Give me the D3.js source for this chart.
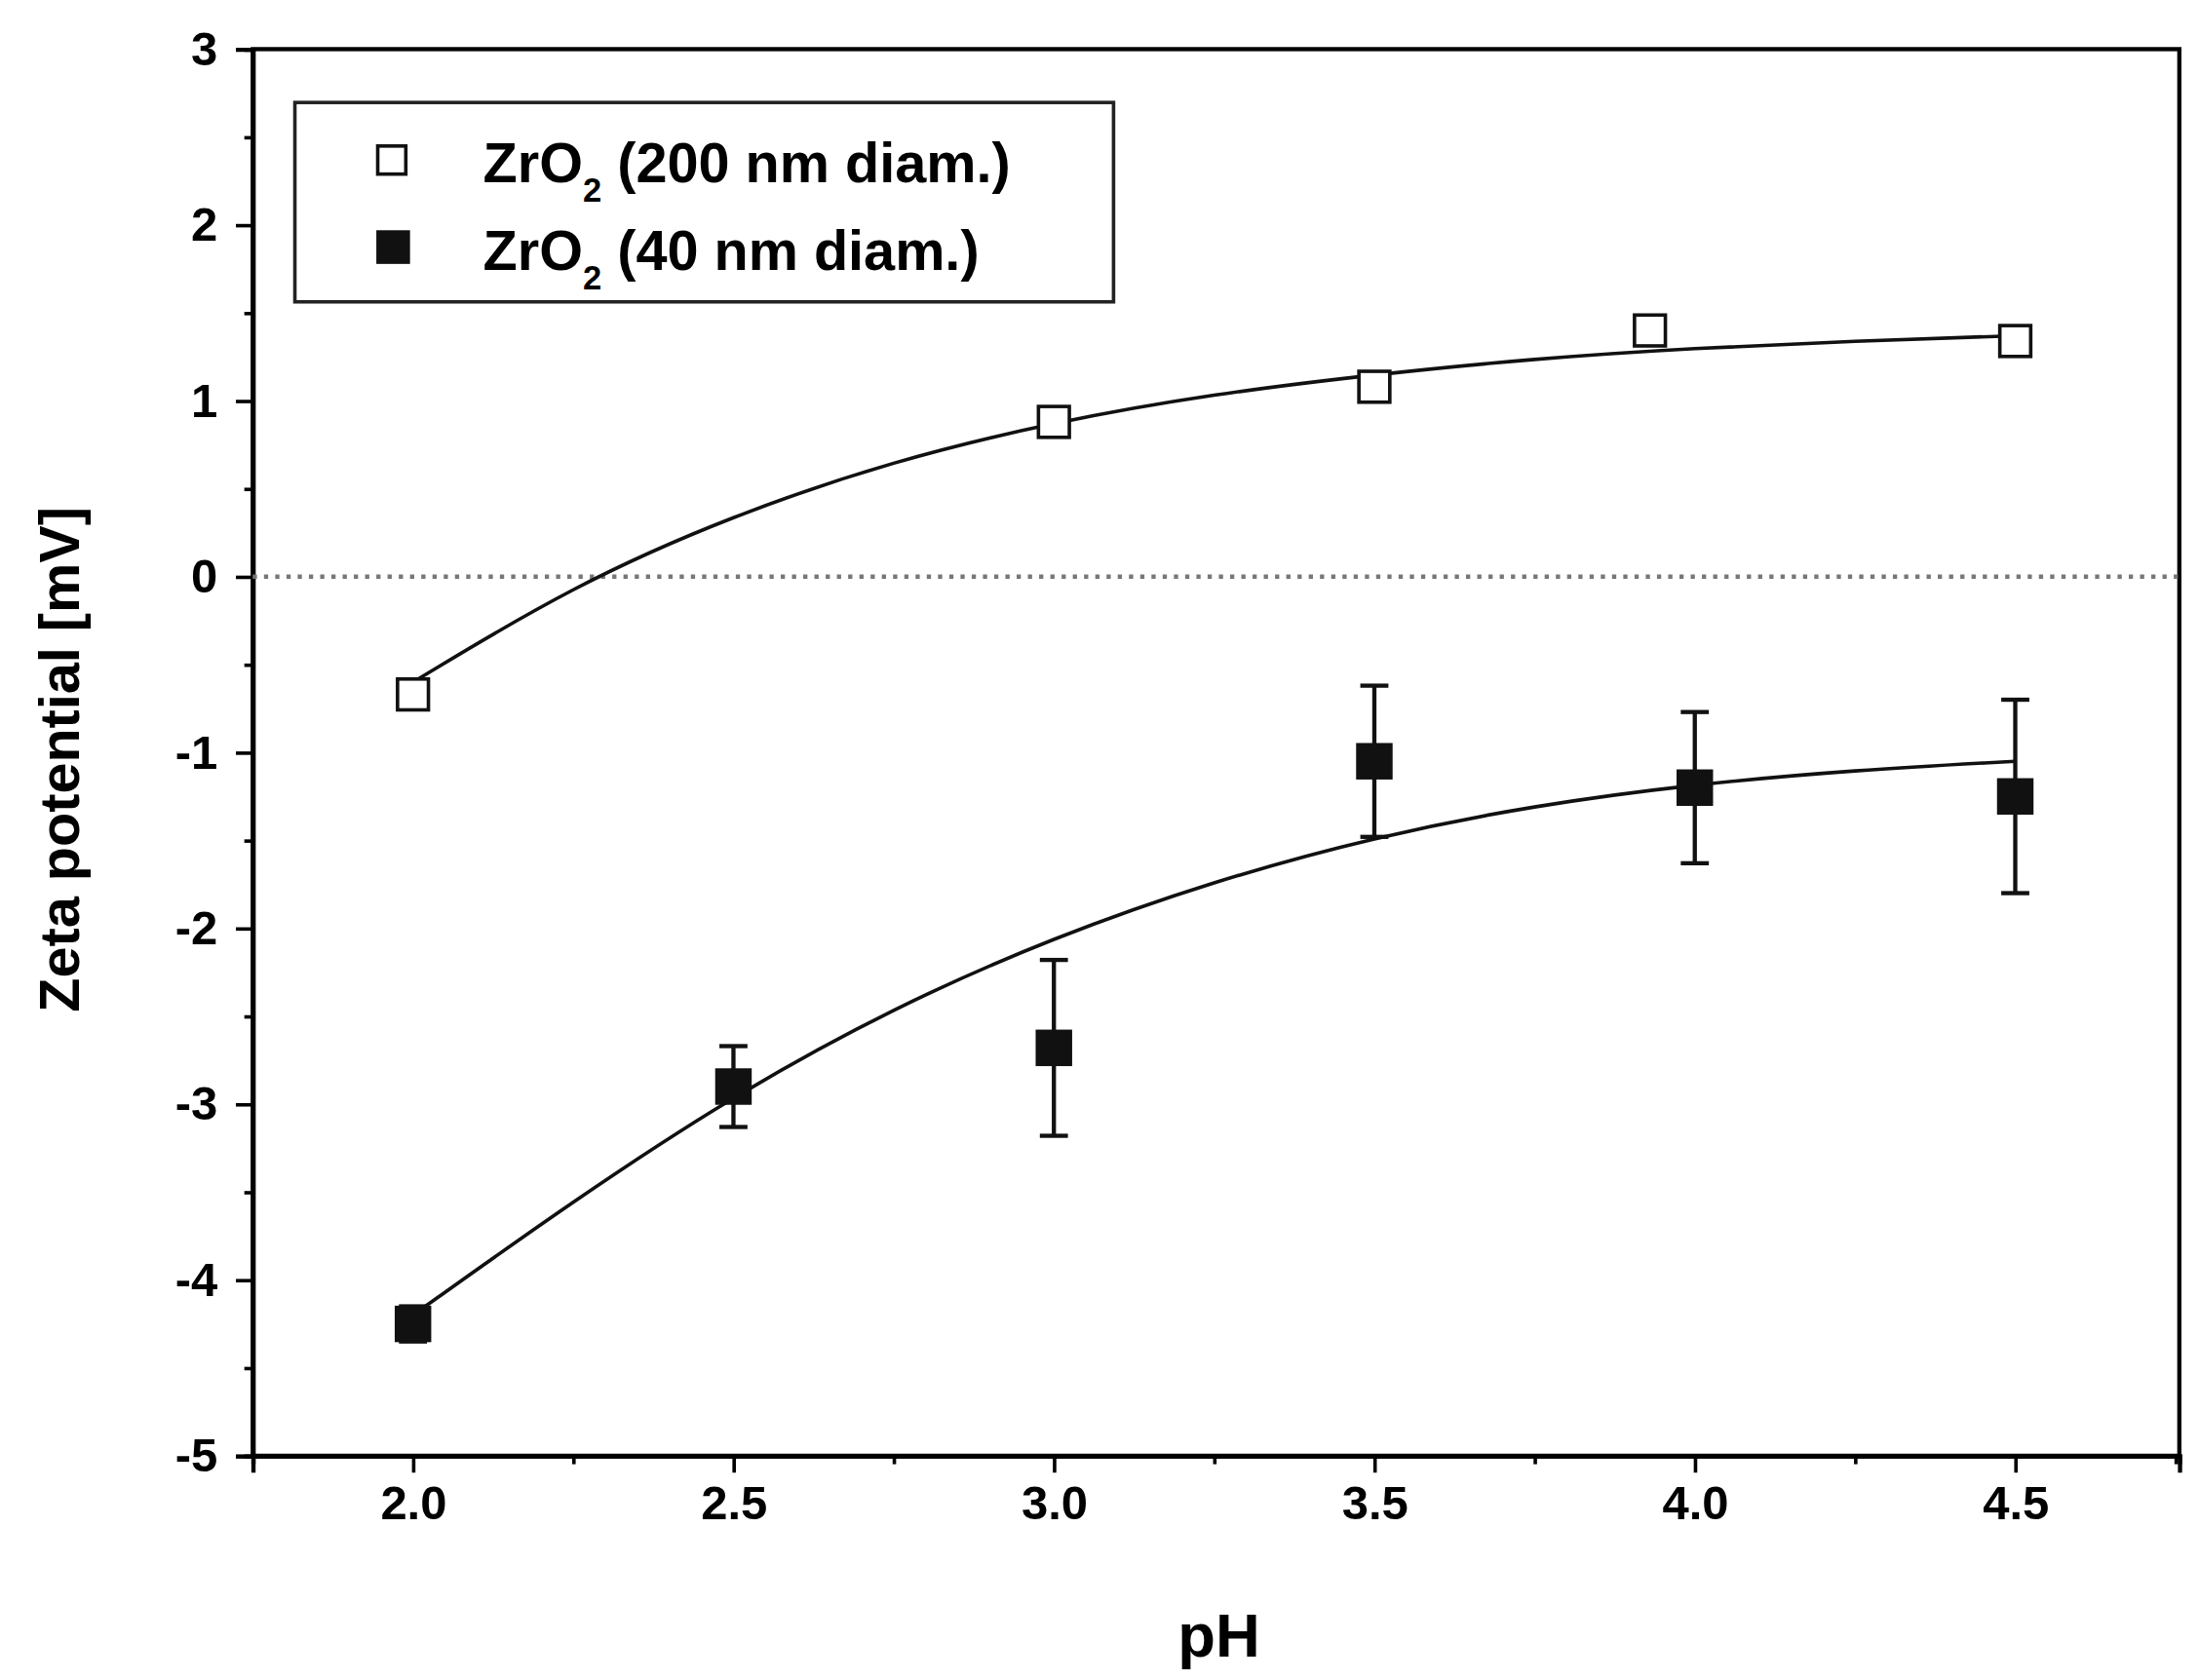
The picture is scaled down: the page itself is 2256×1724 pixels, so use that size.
<!DOCTYPE html>
<html><head><meta charset="utf-8">
<script src="https://cdn.jsdelivr.net/npm/d3@7"></script>
<style>body{margin:0;background:#fff}text{font-family:"Liberation Sans",Arial,sans-serif;font-weight:bold}</style>
</head><body><svg id="c" width="2256" height="1724" viewBox="0 0 1566 1196.7"></svg>
<script>
const phA=[2.0,3.0,3.5,3.93,4.5];
const zetaA=[-0.67,0.88,1.08,1.4,1.34];
const phB=[2.0,2.5,3.0,3.5,4.0,4.5];
const zetaB=[-4.25,-2.9,-2.68,-1.05,-1.2,-1.25];
const errB=[0.1,0.23,0.5,0.43,0.43,0.55];
const fitX=[2.0,2.25,2.5,2.75,3.0,3.25,3.5,3.75,4.0,4.25,4.5];
const fitA=[-0.6,-0.05,0.35,0.66,0.88,1.04,1.15,1.24,1.3,1.34,1.37];
const fitB=[-4.2,-3.55,-2.95,-2.45,-2.05,-1.73,-1.48,-1.3,-1.18,-1.1,-1.05];
const xTicks=[2.0,2.5,3.0,3.5,4.0,4.5];
const yTicks=[3,2,1,0,-1,-2,-3,-4,-5];

const svg=d3.select("#c");
const L=180,R=1552,T=35,B=1037;
const x=d3.scaleLinear().domain([1.75,4.756]).range([L,R]);
const y=d3.scaleLinear().domain([-5,3]).range([B,T]);

svg.append("rect").attr("x",L).attr("y",T).attr("width",R-L).attr("height",B-T).attr("fill","none").attr("stroke","#000").attr("stroke-width",3);

const ya=svg.append("g").attr("transform",`translate(${L},0)`)
 .call(d3.axisLeft(y).tickValues(yTicks).tickSize(12).tickFormat(d=>String(d)));
svg.append("g").attr("transform",`translate(${L},0)`)
 .call(d3.axisLeft(y).tickValues(d3.range(-4.5,3,1)).tickSize(6).tickFormat(""));
const xa=svg.append("g").attr("transform",`translate(0,${B})`)
 .call(d3.axisBottom(x).tickValues(xTicks).tickSize(12).tickFormat(d3.format(".1f")));
svg.append("g").attr("transform",`translate(0,${B})`)
 .call(d3.axisBottom(x).tickValues([1.75,2.25,2.75,3.25,3.75,4.25,4.75]).tickSize(6).tickFormat(""));
svg.selectAll(".domain").attr("stroke","#000").attr("stroke-width",3);
svg.selectAll(".tick line").attr("stroke","#000").attr("stroke-width",2.5);
ya.selectAll("text").attr("font-size",34).attr("dx",-10);
xa.selectAll("text").attr("font-size",34).attr("dy",30);

svg.append("text").attr("x",868).attr("y",1180).attr("text-anchor","middle").attr("font-size",44).text("pH");
svg.append("text").attr("transform",`translate(56,${(T+B)/2+5}) rotate(-90)`).attr("text-anchor","middle").attr("font-size",40).text("Zeta potential [mV]");

svg.append("line").attr("x1",L).attr("x2",R).attr("y1",y(0)).attr("y2",y(0)).attr("stroke","#777").attr("stroke-width",3).attr("stroke-dasharray","3,5");

const line=d3.line().x(d=>x(d[0])).y(d=>y(d[1])).curve(d3.curveBasis);
svg.append("path").datum(fitX.map((v,i)=>[v,fitA[i]])).attr("d",line).attr("fill","none").attr("stroke","#111").attr("stroke-width",2.5);
svg.append("path").datum(fitX.map((v,i)=>[v,fitB[i]])).attr("d",line).attr("fill","none").attr("stroke","#111").attr("stroke-width",2.5);

phB.forEach((p,i)=>{
  const g=svg.append("g").attr("stroke","#111").attr("stroke-width",3);
  g.append("line").attr("x1",x(p)).attr("x2",x(p)).attr("y1",y(zetaB[i]-errB[i])).attr("y2",y(zetaB[i]+errB[i]));
  [zetaB[i]-errB[i],zetaB[i]+errB[i]].forEach(v=>g.append("line").attr("x1",x(p)-10).attr("x2",x(p)+10).attr("y1",y(v)).attr("y2",y(v)));
});
const s=22;
svg.selectAll(".ma").data(phA).join("rect").attr("x",(d)=>x(d)-s/2).attr("y",(d,i)=>y(zetaA[i])-s/2).attr("width",s).attr("height",s).attr("fill","#fff").attr("stroke","#111").attr("stroke-width",2.5);
svg.selectAll(".mb").data(phB).join("rect").attr("x",(d)=>x(d)-13).attr("y",(d,i)=>y(zetaB[i])-13).attr("width",26).attr("height",26).attr("fill","#111");

const lg=svg.append("g");
lg.append("rect").attr("x",210).attr("y",73).attr("width",583).attr("height",142).attr("fill","#fff").attr("stroke","#222").attr("stroke-width",2.5);
lg.append("rect").attr("x",269).attr("y",104).attr("width",20).attr("height",20).attr("fill","#fff").attr("stroke","#111").attr("stroke-width",2.5);
lg.append("rect").attr("x",268).attr("y",164).attr("width",24).attr("height",24).attr("fill","#111");
const labels=[["(200 nm diam.)",130],["(40 nm diam.)",192]];
labels.forEach(([t,yy])=>{
  const tx=lg.append("text").attr("x",344).attr("y",yy).attr("font-size",40);
  tx.append("tspan").text("ZrO");
  tx.append("tspan").attr("font-size",24).attr("dy",14).text("2");
  tx.append("tspan").attr("dy",-14).text(" "+t);
});
</script></body></html>
